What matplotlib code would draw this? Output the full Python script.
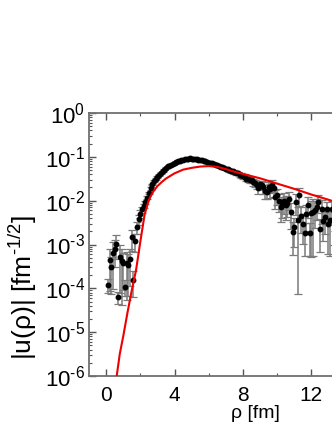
import numpy as np
import matplotlib
matplotlib.use('Agg')
import matplotlib.pyplot as plt
from matplotlib.ticker import LogLocator, FuncFormatter, MultipleLocator, NullFormatter

plt.rcParams['font.family'] = ['Liberation Sans', 'DejaVu Sans']
plt.rcParams['mathtext.fontset'] = 'custom'
plt.rcParams['mathtext.rm'] = 'Liberation Sans'
plt.rcParams['mathtext.it'] = 'Liberation Sans'
plt.rcParams['mathtext.default'] = 'regular'

# data points (rho in fm, |u| in fm^-1/2, relative error)
rho = [0.1, 0.2, 0.3, 0.4, 0.5, 0.6, 0.7, 0.8, 0.9, 1.0,
       1.1, 1.2, 1.3, 1.4, 1.5, 1.6, 1.7, 1.8, 1.9, 2.0,
       2.1, 2.2, 2.3, 2.4, 2.5, 2.6, 2.7, 2.8, 2.9, 3.0,
       3.1, 3.2, 3.3, 3.4, 3.5, 3.6, 3.7, 3.8, 3.9, 4.0,
       4.1, 4.2, 4.3, 4.4, 4.5, 4.6, 4.7, 4.8, 4.9, 5.0,
       5.1, 5.2, 5.3, 5.4, 5.5, 5.6, 5.7, 5.8, 5.9, 6.0,
       6.1, 6.2, 6.3, 6.4, 6.5, 6.6, 6.7, 6.8, 6.9, 7.0,
       7.1, 7.2, 7.3, 7.4, 7.5, 7.6, 7.7, 7.8, 7.9, 8.0,
       8.1, 8.2, 8.3, 8.4, 8.5, 8.6, 8.7, 8.8, 8.9, 9.0,
       9.1, 9.2, 9.3, 9.4, 9.5, 9.6, 9.7, 9.8, 9.9, 10.0,
       10.1, 10.2, 10.3, 10.4, 10.5, 10.6, 10.7, 10.8, 10.9, 11.0,
       11.1, 11.2, 11.3, 11.4, 11.5, 11.6, 11.7, 11.8, 11.9, 12.0,
       12.1, 12.2, 12.3, 12.4, 12.5, 12.6, 12.7, 12.8, 12.9, 13.0,
       13.1, 13.2, 13.3, 13.4]

u = [1.2e-4, 4.4e-4, 3.0e-4, 6.3e-4, 7.8e-4, 1.05e-3, 6.2e-5, 5.2e-4, 4.1e-4, 3.7e-4,
     1.1e-4, 3.7e-4, 3.4e-4, 4.6e-4, 1.45e-3, 1.55e-4, 1.2e-3, 2.5e-3, 3.8e-3, 5.0e-3,
     6.3e-3, 7.6e-3, 9.1e-3, 0.0117, 0.0151, 0.019, 0.0234, 0.0275, 0.031, 0.0347,
     0.0389, 0.0427, 0.0468, 0.0513, 0.0562, 0.0603, 0.063, 0.066, 0.069, 0.072,
     0.076, 0.079, 0.081, 0.083, 0.085, 0.087, 0.089, 0.091, 0.093, 0.091,
     0.089, 0.091, 0.087, 0.085, 0.085, 0.083, 0.081, 0.079, 0.076, 0.074,
     0.072, 0.071, 0.069, 0.066, 0.065, 0.062, 0.060, 0.058, 0.056, 0.054,
     0.052, 0.050, 0.048, 0.047, 0.045, 0.043, 0.042, 0.039, 0.038, 0.036,
     0.035, 0.032, 0.032, 0.030, 0.030, 0.027, 0.025, 0.023, 0.019, 0.024,
     0.023, 0.020, 0.017, 0.016, 0.021, 0.018, 0.023, 0.019, 0.012, 0.0135,
     0.010, 0.0072, 0.0079, 0.010, 0.0081, 0.0087, 0.011, 0.0056, 0.0019, 0.0025,
     0.0093, 0.0037, 0.0135, 0.0045, 0.0030, 0.0018, 0.0050, 0.0079, 0.0018, 0.0051,
     0.0056, 0.0060, 0.0072, 0.0093, 0.0023, 0.0066, 0.0035, 0.0043, 0.0063, 0.0030,
     0.0036, 0.0063, 0.0032, 0.0050]

rel_err = [0.35, 0.8, 0.75, 0.85, 0.6, 0.55, 0.3, 0.85, 0.9, 0.75,
           0.4, 0.85, 0.8, 0.75, 0.5, 0.6, 0.45, 0.3, 0.25, 0.2,
           0.15, 0.12, 0.1, 0.08, 0.07, 0.06, 0.05, 0.05, 0.04, 0.04,
           0.04, 0.04, 0.03, 0.03, 0.03, 0.03, 0.03, 0.03, 0.03, 0.03,
           0.03, 0.03, 0.03, 0.03, 0.03, 0.03, 0.03, 0.03, 0.03, 0.03,
           0.03, 0.03, 0.03, 0.03, 0.03, 0.04, 0.04, 0.04, 0.04, 0.04,
           0.05, 0.05, 0.05, 0.05, 0.06, 0.06, 0.06, 0.07, 0.07, 0.08,
           0.08, 0.08, 0.09, 0.09, 0.1, 0.1, 0.1, 0.12, 0.12, 0.12,
           0.13, 0.14, 0.15, 0.15, 0.16, 0.18, 0.2, 0.2, 0.25, 0.2,
           0.25, 0.3, 0.35, 0.3, 0.3, 0.35, 0.3, 0.35, 0.45, 0.4,
           0.45, 0.55, 0.5, 0.5, 0.55, 0.5, 0.45, 0.6, 0.7, 0.65,
           0.5, 0.98, 0.45, 0.6, 0.65, 0.7, 0.6, 0.5, 0.7, 0.9,
           0.9, 0.6, 0.5, 0.45, 0.7, 0.55, 0.65, 0.6, 0.5, 0.8,
           0.85, 0.55, 0.7, 0.6]

# theory curve
rho_th = [0.62, 0.8, 1.0, 1.25, 1.5, 1.75, 2.0, 2.25, 2.5, 2.75,
          3.0, 3.25, 3.5, 4.0, 4.5, 5.0, 5.5, 6.0, 6.5, 7.0,
          7.5, 8.0, 8.5, 9.0, 9.5, 10.0, 11.0, 12.0, 13.0, 14.0,
          15.0, 16.0, 17.0, 18.0]
u_th = [1.0e-6, 3.2e-6, 8.0e-6, 2.8e-5, 9.0e-5, 2.6e-4, 1.15e-3, 4.8e-3, 1.05e-2, 1.6e-2,
        2.15e-2, 2.65e-2, 3.2e-2, 4.2e-2, 5.1e-2, 5.6e-2, 6.0e-2, 6.15e-2, 5.9e-2, 5.25e-2,
        4.57e-2, 4.07e-2, 3.63e-2, 3.24e-2, 2.82e-2, 2.45e-2, 1.86e-2, 1.38e-2, 1.05e-2, 7.9e-3,
        6.0e-3, 4.6e-3, 3.5e-3, 2.7e-3]

u_arr = np.array(u)
err = u_arr * np.array(rel_err)


def pow10(v, pos):
    e = int(round(np.log10(v)))
    if e < 0:
        return r'$10^{\text{-}%d}$' % (-e)
    return r'$10^{%d}$' % e


fig = plt.figure(figsize=(3.32, 4.3), dpi=100)
ax = fig.add_axes([89/332, 54/430, 325/332, 263/430])

eb = ax.errorbar(rho, u_arr, yerr=err, fmt='none', ecolor='#7a7a7a', elinewidth=1.1,
                 capsize=2.6, capthick=0.9, zorder=2)
for cl in eb[1]:
    cl.set_color('#303030')
ax.plot(rho, u_arr, 'o', color='black', markersize=3.2, zorder=3)
ax.plot(rho_th, u_th, '-', color='#ee0000', lw=1.5, zorder=4)

ax.set_yscale('log')
ax.set_ylim(1e-6, 1)
ax.set_xlim(-1, 18)

ax.xaxis.set_major_locator(MultipleLocator(4))
ax.xaxis.set_minor_locator(MultipleLocator(2))
ax.yaxis.set_major_locator(LogLocator(base=10, numticks=10))
ax.yaxis.set_minor_locator(LogLocator(base=10, subs=np.arange(2, 10), numticks=20))
ax.yaxis.set_major_formatter(FuncFormatter(pow10))
ax.yaxis.set_minor_formatter(NullFormatter())

for s in ax.spines.values():
    s.set_color('#707070')
    s.set_linewidth(1.3)
ax.tick_params(which='both', direction='in', top=True, right=True, color='#555555')
ax.tick_params(which='major', length=5, width=1.0)
ax.tick_params(which='minor', length=2.5, width=0.8)
ax.tick_params(axis='y', which='major', pad=3, labelsize=16)
ax.tick_params(axis='x', which='major', pad=7, labelsize=15)

ax.set_xlabel('ρ [fm]', fontsize=14)
ax.set_ylabel(r'|u(ρ)| [fm$^{\text{-}1/2}$]', fontsize=19)
ax.xaxis.set_label_coords(0.511, -0.11)
ax.yaxis.set_label_coords(-0.155, 0.335)

fig.savefig('out.png', dpi=100)
